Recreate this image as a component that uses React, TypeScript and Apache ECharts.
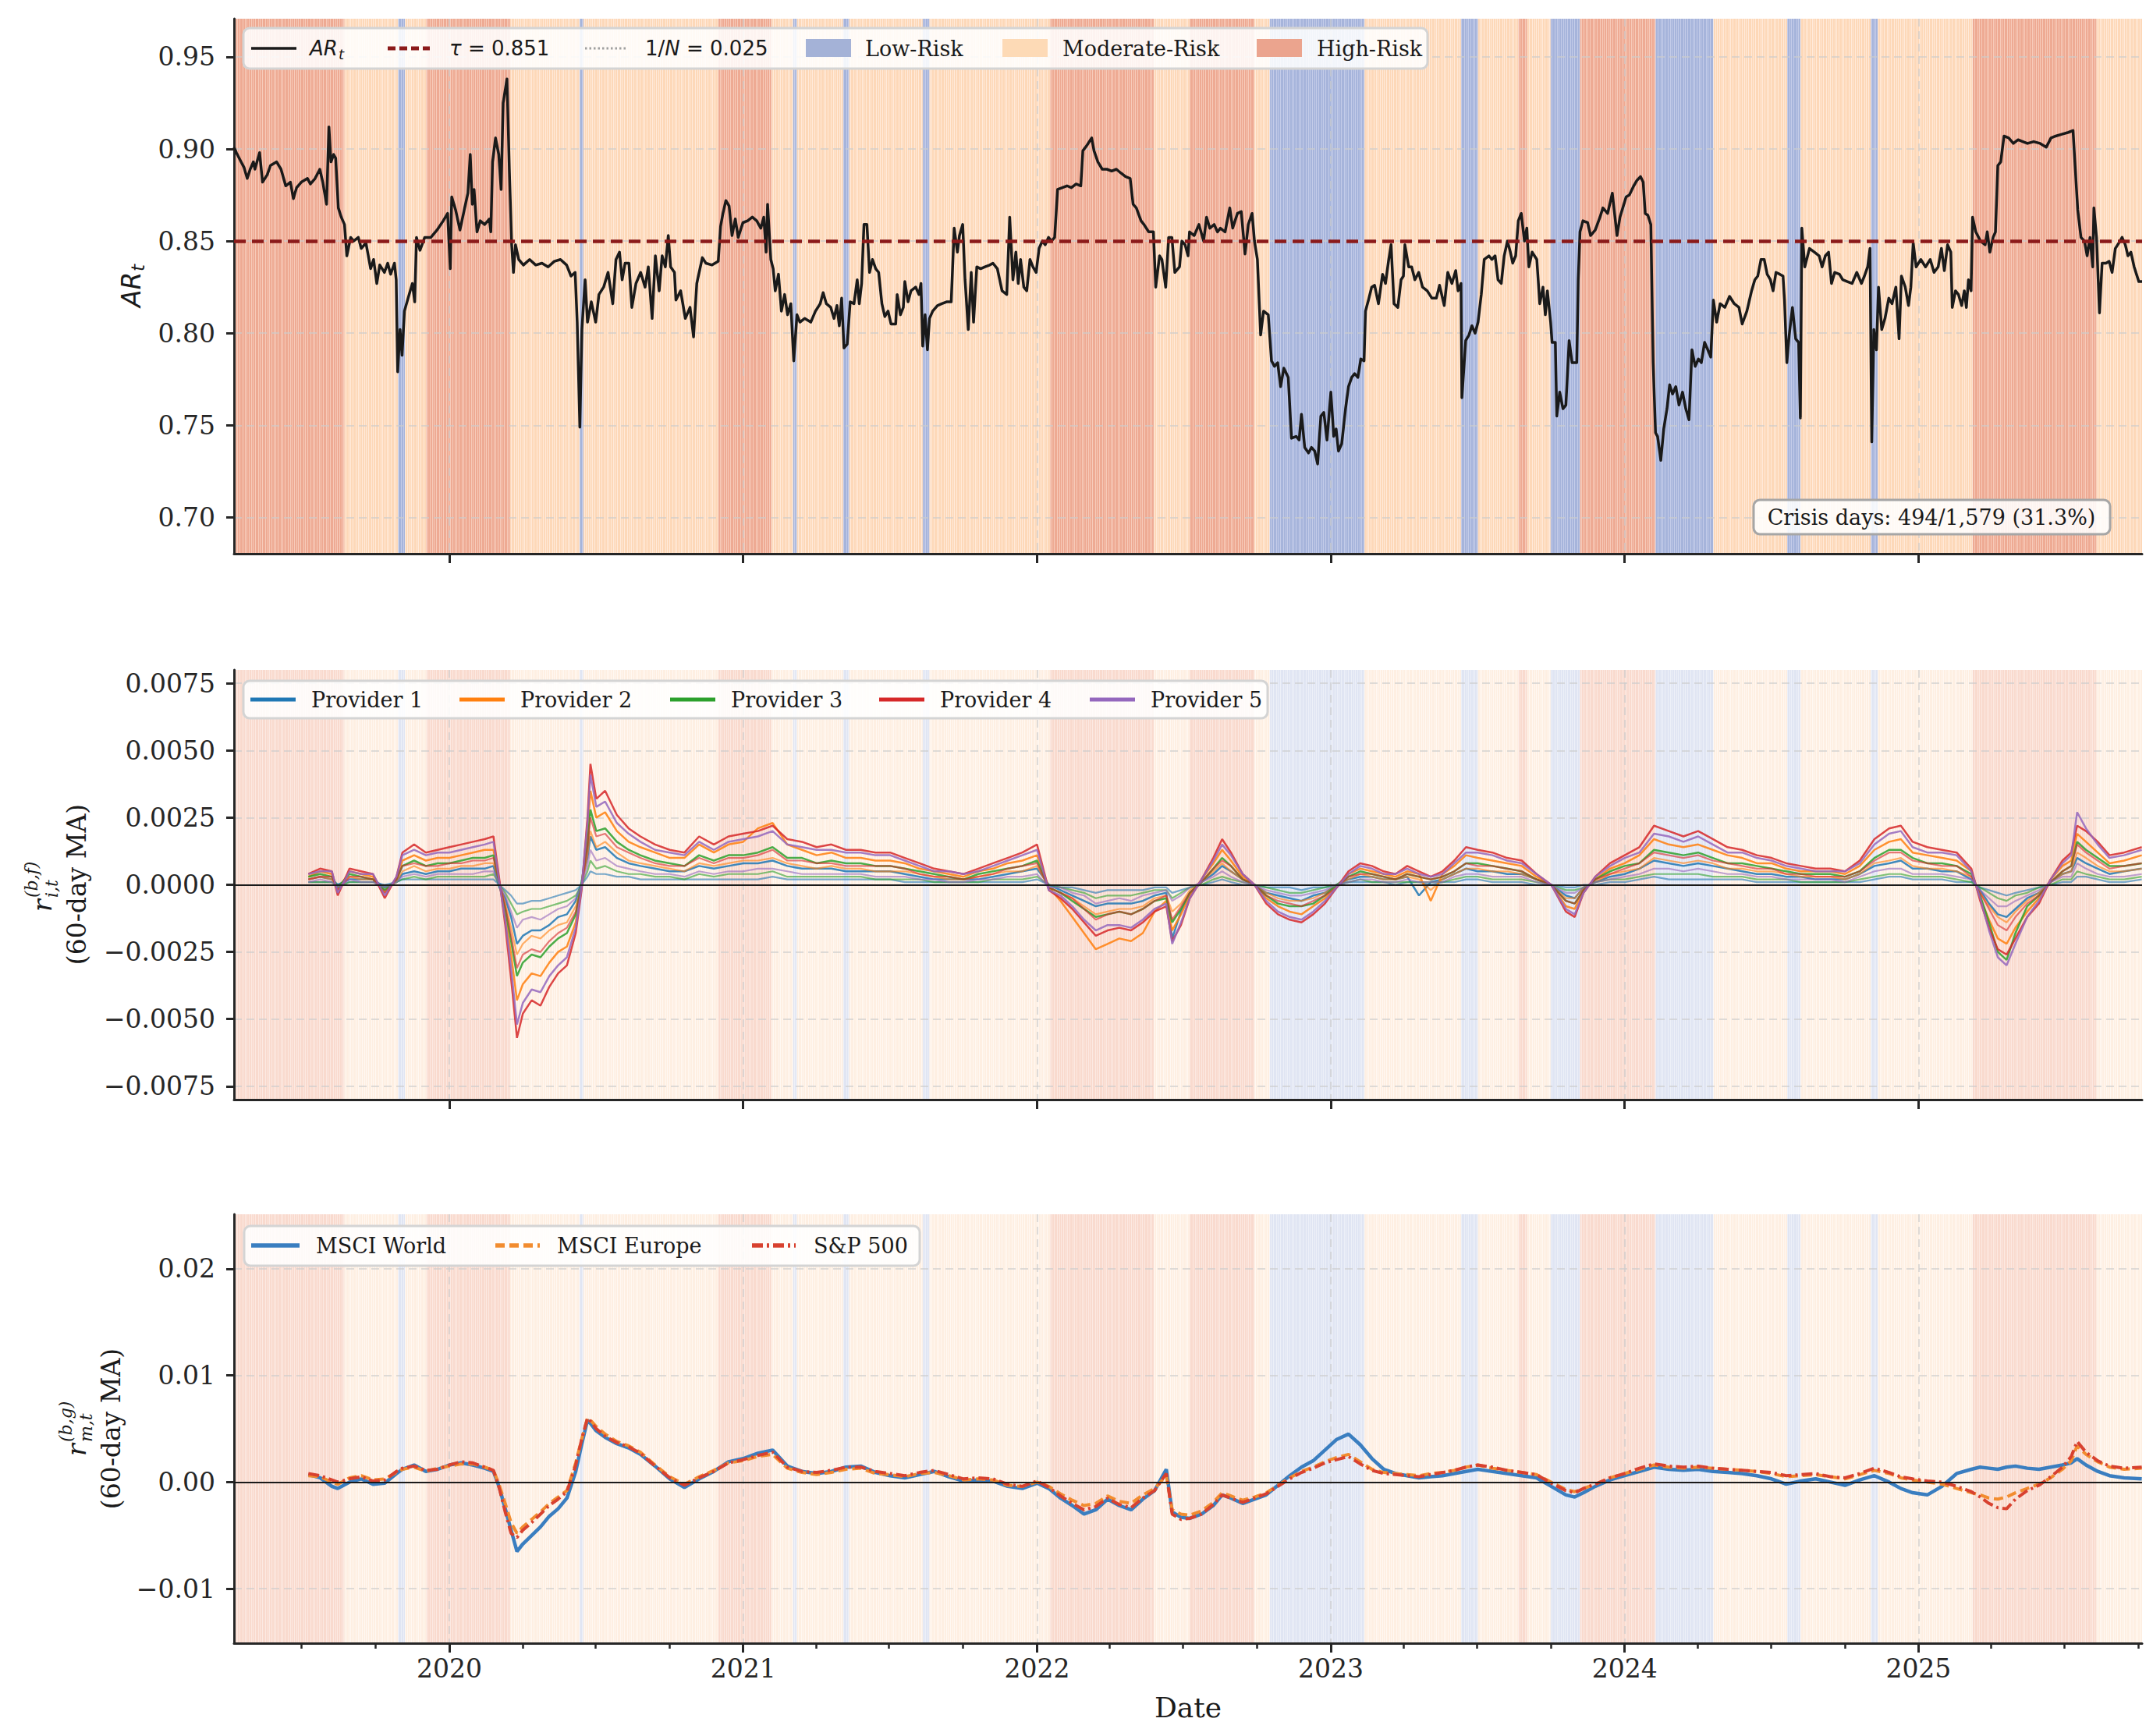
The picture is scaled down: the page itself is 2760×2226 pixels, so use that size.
import React, { useEffect, useRef } from "react";
import * as echarts from "echarts";

const CANVAS_W = 2760;
const CANVAS_H = 2226;

const SERIF = "'DejaVu Serif', 'Liberation Serif', serif";
const SANS = "'DejaVu Sans', 'Liberation Sans', sans-serif";
const INK = "#262626";

// ---- time axis (decimal years) ----
const X_MIN = 2019.267;
const X_MAX = 2025.761;
const YEAR_TICKS = [2020, 2021, 2022, 2023, 2024, 2025];
const QUARTER_TICKS = [
  2019.496, 2019.748, 2020.249, 2020.497, 2020.749, 2021.247, 2021.496, 2021.748,
  2022.247, 2022.496, 2022.748, 2023.247, 2023.496, 2023.748, 2024.249, 2024.497,
  2024.749, 2025.247, 2025.496, 2025.748,
];

// ---- thresholds / summary ----
const TAU = 0.851;
const INV_N = 0.025;
const CRISIS_DAYS = 494;
const TOTAL_DAYS = 1579;

const AR_TICKS = [0.7, 0.75, 0.8, 0.85, 0.9, 0.95];
const PROVIDER_TICKS = [-0.0075, -0.005, -0.0025, 0, 0.0025, 0.005, 0.0075];
const MARKET_TICKS = [-0.01, 0, 0.01, 0.02];

// ---- risk regimes: [start, end, regime] ----
type Regime = "Low" | "Moderate" | "High";
const REGIMES: [number, number, Regime][] = [
  [2019.267, 2019.643, "High"],
  [2019.643, 2019.826, "Moderate"],
  [2019.826, 2019.849, "Low"],
  [2019.849, 2019.921, "Moderate"],
  [2019.921, 2020.207, "High"],
  [2020.207, 2020.444, "Moderate"],
  [2020.444, 2020.456, "Low"],
  [2020.456, 2020.915, "Moderate"],
  [2020.915, 2021.096, "High"],
  [2021.096, 2021.17, "Moderate"],
  [2021.17, 2021.183, "Low"],
  [2021.183, 2021.34, "Moderate"],
  [2021.34, 2021.361, "Low"],
  [2021.361, 2021.611, "Moderate"],
  [2021.611, 2021.634, "Low"],
  [2021.634, 2022.044, "Moderate"],
  [2022.044, 2022.398, "High"],
  [2022.398, 2022.519, "Moderate"],
  [2022.519, 2022.74, "High"],
  [2022.74, 2022.792, "Moderate"],
  [2022.792, 2023.115, "Low"],
  [2023.115, 2023.443, "Moderate"],
  [2023.443, 2023.501, "Low"],
  [2023.501, 2023.638, "Moderate"],
  [2023.638, 2023.669, "High"],
  [2023.669, 2023.748, "Moderate"],
  [2023.748, 2023.848, "Low"],
  [2023.848, 2024.105, "High"],
  [2024.105, 2024.302, "Low"],
  [2024.302, 2024.553, "Moderate"],
  [2024.553, 2024.598, "Low"],
  [2024.598, 2024.838, "Moderate"],
  [2024.838, 2024.861, "Low"],
  [2024.861, 2025.184, "Moderate"],
  [2025.184, 2025.606, "High"],
  [2025.606, 2025.761, "Moderate"],
];

// ---- absorption ratio AR_t: [decimal year, value] ----
const AR_SERIES: [number, number][] = [
  [2019.267,0.901],[2019.275,0.898],[2019.291,0.893],[2019.301,0.890],[2019.312,0.884],[2019.322,0.889],[2019.333,0.893],[2019.338,0.889],[2019.354,0.898],[2019.364,0.882],
  [2019.380,0.886],[2019.391,0.891],[2019.412,0.893],[2019.427,0.889],[2019.443,0.880],[2019.459,0.882],[2019.469,0.873],[2019.480,0.879],[2019.496,0.882],[2019.517,0.884],
  [2019.527,0.881],[2019.543,0.884],[2019.559,0.889],[2019.569,0.882],[2019.582,0.870],[2019.590,0.912],[2019.597,0.893],[2019.606,0.897],[2019.613,0.895],[2019.622,0.868],
  [2019.632,0.863],[2019.643,0.859],[2019.651,0.842],[2019.664,0.852],[2019.674,0.850],[2019.690,0.852],[2019.700,0.846],[2019.716,0.849],[2019.732,0.835],[2019.742,0.840],
  [2019.753,0.827],[2019.763,0.837],[2019.779,0.833],[2019.790,0.838],[2019.800,0.832],[2019.813,0.838],[2019.819,0.829],[2019.824,0.779],[2019.832,0.802],[2019.839,0.788],
  [2019.847,0.812],[2019.863,0.821],[2019.874,0.827],[2019.882,0.817],[2019.888,0.852],[2019.900,0.845],[2019.916,0.852],[2019.937,0.852],[2019.958,0.856],[2019.979,0.861],
  [2019.994,0.865],[2020.003,0.835],[2020.008,0.874],[2020.021,0.867],[2020.036,0.856],[2020.052,0.868],[2020.063,0.876],[2020.071,0.897],[2020.078,0.870],[2020.084,0.878],
  [2020.094,0.855],[2020.105,0.861],[2020.120,0.859],[2020.136,0.862],[2020.141,0.855],[2020.147,0.893],[2020.157,0.906],[2020.168,0.897],[2020.176,0.878],[2020.183,0.925],
  [2020.196,0.938],[2020.204,0.889],[2020.212,0.848],[2020.218,0.833],[2020.225,0.848],[2020.236,0.840],[2020.252,0.837],[2020.273,0.840],[2020.294,0.837],[2020.315,0.838],
  [2020.336,0.836],[2020.357,0.839],[2020.378,0.840],[2020.399,0.837],[2020.414,0.831],[2020.428,0.833],[2020.435,0.806],[2020.444,0.749],[2020.451,0.802],[2020.462,0.829],
  [2020.470,0.806],[2020.483,0.817],[2020.498,0.806],[2020.509,0.821],[2020.525,0.825],[2020.540,0.833],[2020.556,0.816],[2020.567,0.840],[2020.579,0.844],[2020.588,0.829],
  [2020.598,0.838],[2020.611,0.838],[2020.621,0.814],[2020.635,0.827],[2020.651,0.833],[2020.666,0.825],[2020.677,0.836],[2020.690,0.808],[2020.701,0.842],[2020.714,0.823],
  [2020.724,0.842],[2020.735,0.836],[2020.745,0.853],[2020.753,0.836],[2020.766,0.833],[2020.771,0.818],[2020.787,0.823],[2020.803,0.808],[2020.819,0.814],[2020.831,0.798],
  [2020.842,0.827],[2020.850,0.833],[2020.861,0.841],
  [2020.873,0.838],[2020.894,0.837],[2020.915,0.839],[2020.923,0.858],[2020.931,0.865],[2020.941,0.872],[2020.952,0.869],[2020.962,0.853],[2020.973,0.862],[2020.983,0.852],
  [2020.999,0.860],[2021.015,0.861],[2021.031,0.863],[2021.046,0.861],[2021.060,0.857],[2021.070,0.863],[2021.078,0.844],[2021.083,0.870],[2021.094,0.840],[2021.102,0.835],
  [2021.109,0.823],[2021.120,0.832],[2021.130,0.812],[2021.141,0.821],[2021.151,0.810],[2021.162,0.816],[2021.172,0.785],[2021.183,0.810],[2021.193,0.806],[2021.209,0.808],
  [2021.230,0.806],[2021.246,0.812],[2021.262,0.816],[2021.272,0.822],[2021.283,0.816],[2021.298,0.814],[2021.309,0.808],[2021.319,0.815],[2021.327,0.804],[2021.335,0.819],
  [2021.343,0.792],[2021.354,0.794],[2021.364,0.817],[2021.377,0.816],[2021.388,0.829],[2021.395,0.816],[2021.403,0.827],[2021.411,0.859],[2021.421,0.859],[2021.430,0.833],
  [2021.440,0.840],[2021.451,0.835],[2021.461,0.833],[2021.472,0.816],[2021.482,0.809],[2021.493,0.812],[2021.503,0.805],[2021.519,0.805],[2021.524,0.821],[2021.535,0.810],
  [2021.545,0.814],[2021.550,0.828],[2021.561,0.817],[2021.571,0.823],[2021.587,0.825],[2021.598,0.821],[2021.605,0.827],[2021.611,0.793],[2021.619,0.810],[2021.627,0.791],
  [2021.634,0.808],[2021.645,0.812],[2021.661,0.815],[2021.676,0.816],[2021.692,0.817],[2021.708,0.817],[2021.718,0.857],[2021.729,0.844],[2021.736,0.853],[2021.747,0.859],
  [2021.755,0.829],[2021.766,0.802],[2021.776,0.833],[2021.784,0.806],[2021.795,0.836],[2021.808,0.835],[2021.823,0.836],[2021.839,0.837],[2021.850,0.838],[2021.865,0.835],
  [2021.881,0.823],[2021.897,0.821],[2021.907,0.863],[2021.918,0.829],[2021.928,0.844],[2021.936,0.827],[2021.944,0.840],[2021.955,0.825],[2021.965,0.823],[2021.976,0.840],
  [2021.986,0.836],[2021.997,0.833],[2022.007,0.846],[2022.018,0.850],[2022.028,0.848],[2022.039,0.852],[2022.049,0.850],[2022.060,0.852],[2022.070,0.878],[2022.086,0.879],
  [2022.102,0.880],[2022.117,0.879],[2022.133,0.881],[2022.149,0.880],[2022.156,0.899],[2022.170,0.902],[2022.186,0.906],[2022.194,0.899],[2022.207,0.893],[2022.222,0.889],
  [2022.238,0.889],[2022.254,0.888],[2022.270,0.889],[2022.285,0.887],[2022.301,0.885],[2022.317,0.884],[2022.327,0.870],[2022.338,0.868],[2022.354,0.861],[2022.364,0.859],
  [2022.380,0.855],[2022.396,0.855],[2022.404,0.825],[2022.417,0.842],[2022.425,0.840],[2022.438,0.825],[2022.448,0.852],[2022.459,0.852],[2022.469,0.833],[2022.485,0.836],
  [2022.493,0.850],[2022.504,0.848],[2022.514,0.842],[2022.519,0.855],[2022.535,0.853],[2022.551,0.859],[2022.567,0.850],[2022.577,0.863],[2022.588,0.857],[2022.603,0.859],
  [2022.614,0.855],[2022.624,0.857],[2022.640,0.855],[2022.656,0.868],[2022.666,0.857],[2022.682,0.865],[2022.695,0.866],[2022.708,0.843],[2022.719,0.859],[2022.732,0.865],
  [2022.740,0.850],[2022.750,0.840],[2022.761,0.799],[2022.771,0.812],[2022.787,0.810],[2022.798,0.785],[2022.808,0.782],[2022.819,0.784],[2022.829,0.771],[2022.840,0.781],
  [2022.855,0.776],[2022.866,0.743],[2022.882,0.744],[2022.892,0.742],[2022.900,0.756],[2022.911,0.738],[2022.924,0.735],[2022.934,0.738],[2022.945,0.736],[2022.955,0.729],
  [2022.966,0.755],[2022.976,0.757],[2022.987,0.742],[2023.000,0.768],[2023.010,0.744],[2023.018,0.748],[2023.026,0.736],[2023.037,0.740],[2023.050,0.759],[2023.060,0.771],
  [2023.071,0.776],[2023.081,0.778],[2023.092,0.776],[2023.102,0.786],[2023.113,0.785],[2023.118,0.812],[2023.128,0.818],[2023.139,0.825],[2023.149,0.826],[2023.162,0.816],
  [2023.176,0.832],[2023.186,0.827],[2023.197,0.840],[2023.205,0.848],[2023.215,0.816],[2023.228,0.814],[2023.239,0.829],[2023.247,0.831],[2023.252,0.848],[2023.265,0.836],
  [2023.275,0.836],[2023.286,0.829],[2023.299,0.833],[2023.312,0.825],[2023.328,0.823],[2023.344,0.819],[2023.359,0.819],[2023.370,0.826],[2023.386,0.815],[2023.398,0.833],
  [2023.412,0.827],[2023.425,0.834],[2023.433,0.823],[2023.443,0.827],[2023.446,0.765],[2023.454,0.784],[2023.459,0.796],[2023.470,0.799],[2023.480,0.804],[2023.491,0.800],
  [2023.501,0.806],[2023.512,0.821],[2023.522,0.840],[2023.538,0.842],[2023.548,0.840],[2023.559,0.842],[2023.569,0.829],[2023.580,0.827],[2023.590,0.842],[2023.601,0.850],
  [2023.611,0.844],[2023.619,0.838],[2023.629,0.842],[2023.638,0.861],[2023.648,0.865],[2023.659,0.850],[2023.667,0.857],[2023.674,0.836],[2023.685,0.844],[2023.701,0.840],
  [2023.711,0.816],[2023.722,0.825],[2023.730,0.810],[2023.737,0.823],[2023.748,0.806],[2023.753,0.795],[2023.764,0.795],[2023.769,0.755],[2023.779,0.768],[2023.790,0.759],
  [2023.800,0.761],[2023.811,0.796],[2023.821,0.784],[2023.837,0.784],[2023.842,0.829],[2023.848,0.855],[2023.858,0.861],[2023.874,0.860],[2023.884,0.853],[2023.900,0.856],
  [2023.916,0.863],[2023.926,0.868],[2023.942,0.865],[2023.958,0.876],[2023.974,0.853],[2023.984,0.863],[2024.005,0.874],[2024.016,0.875],[2024.031,0.880],[2024.042,0.883],
  [2024.054,0.885],[2024.063,0.882],[2024.070,0.865],[2024.079,0.864],[2024.089,0.859],[2024.097,0.784],[2024.105,0.746],
  [2024.112,0.744],[2024.123,0.731],[2024.133,0.748],[2024.144,0.759],[2024.153,0.772],[2024.163,0.767],[2024.174,0.771],[2024.185,0.761],[2024.197,0.768],[2024.208,0.759],
  [2024.219,0.753],[2024.229,0.791],[2024.240,0.782],[2024.251,0.786],[2024.261,0.784],[2024.272,0.795],[2024.283,0.791],[2024.293,0.787],[2024.302,0.818],[2024.313,0.806],
  [2024.325,0.816],[2024.341,0.814],[2024.357,0.820],[2024.373,0.816],[2024.389,0.814],[2024.400,0.805],[2024.416,0.812],[2024.432,0.823],[2024.443,0.829],[2024.453,0.831],
  [2024.464,0.840],[2024.475,0.840],[2024.485,0.832],[2024.496,0.829],[2024.505,0.823],[2024.515,0.833],[2024.528,0.832],[2024.539,0.831],[2024.544,0.818],[2024.552,0.784],
  [2024.560,0.799],[2024.571,0.814],[2024.582,0.797],[2024.592,0.795],[2024.598,0.754],[2024.603,0.857],[2024.613,0.836],[2024.629,0.846],[2024.646,0.844],[2024.662,0.842],
  [2024.672,0.836],[2024.683,0.842],[2024.694,0.844],[2024.704,0.827],[2024.715,0.833],[2024.731,0.832],[2024.742,0.829],[2024.758,0.828],[2024.774,0.827],[2024.790,0.833],
  [2024.806,0.827],[2024.816,0.831],[2024.827,0.836],[2024.835,0.846],[2024.841,0.741],[2024.848,0.802],[2024.857,0.791],[2024.864,0.825],[2024.875,0.802],[2024.886,0.808],
  [2024.899,0.819],[2024.910,0.816],[2024.923,0.825],[2024.934,0.797],[2024.942,0.831],[2024.955,0.825],[2024.966,0.815],[2024.974,0.825],[2024.982,0.849],[2024.992,0.836],
  [2025.008,0.840],[2025.024,0.836],[2025.040,0.840],[2025.053,0.833],[2025.067,0.836],[2025.078,0.846],[2025.088,0.834],[2025.099,0.848],[2025.110,0.844],[2025.115,0.814],
  [2025.126,0.823],[2025.136,0.821],[2025.147,0.815],[2025.156,0.823],[2025.163,0.814],[2025.170,0.829],[2025.179,0.823],[2025.184,0.863],[2025.195,0.855],[2025.211,0.850],
  [2025.227,0.848],[2025.234,0.855],[2025.243,0.844],[2025.254,0.852],[2025.262,0.855],[2025.270,0.891],[2025.280,0.893],[2025.291,0.907],[2025.307,0.906],[2025.323,0.903],
  [2025.339,0.905],[2025.355,0.904],[2025.371,0.903],[2025.392,0.904],[2025.414,0.903],[2025.435,0.901],[2025.451,0.906],[2025.467,0.907],[2025.488,0.908],[2025.510,0.909],
  [2025.526,0.910],[2025.533,0.891],[2025.542,0.867],[2025.553,0.852],[2025.565,0.850],[2025.574,0.842],[2025.584,0.852],[2025.593,0.836],[2025.597,0.868],[2025.606,0.852],
  [2025.616,0.811],[2025.625,0.838],[2025.638,0.838],[2025.649,0.839],[2025.659,0.833],[2025.670,0.846],[2025.686,0.850],[2025.693,0.852],[2025.704,0.848],[2025.713,0.842],
  [2025.723,0.844],[2025.734,0.836],[2025.750,0.828],[2025.761,0.828],
];

// ---- 60-day moving averages: sample dates (decimal years) ----
const MA_T = [
  2019.52, 2019.56, 2019.60, 2019.62, 2019.66, 2019.70, 2019.74, 2019.78, 2019.82, 2019.84,
  2019.88, 2019.92, 2019.96, 2020.00, 2020.04, 2020.08, 2020.12, 2020.15, 2020.17, 2020.19,
  2020.21, 2020.23, 2020.25, 2020.28, 2020.31, 2020.34, 2020.37, 2020.40, 2020.43, 2020.45,
  2020.47, 2020.48, 2020.50, 2020.53, 2020.57, 2020.61, 2020.65, 2020.70, 2020.75, 2020.80,
  2020.85, 2020.90, 2020.95, 2021.00, 2021.05, 2021.10, 2021.15, 2021.20, 2021.25, 2021.30,
  2021.35, 2021.40, 2021.45, 2021.50, 2021.55, 2021.60, 2021.65, 2021.70, 2021.75, 2021.80,
  2021.85, 2021.90, 2021.95, 2022.00, 2022.04, 2022.08, 2022.12, 2022.16, 2022.20, 2022.24,
  2022.28, 2022.32, 2022.36, 2022.40, 2022.44, 2022.46, 2022.49, 2022.52, 2022.56, 2022.60,
  2022.63, 2022.66, 2022.70, 2022.74, 2022.78, 2022.82, 2022.86, 2022.90, 2022.94, 2022.98,
  2023.02, 2023.06, 2023.10, 2023.14, 2023.18, 2023.22, 2023.26, 2023.30, 2023.34, 2023.38,
  2023.42, 2023.46, 2023.50, 2023.55, 2023.60, 2023.65, 2023.70, 2023.75, 2023.80, 2023.83,
  2023.86, 2023.90, 2023.95, 2024.00, 2024.05, 2024.10, 2024.15, 2024.20, 2024.25, 2024.30,
  2024.35, 2024.40, 2024.45, 2024.50, 2024.55, 2024.60, 2024.65, 2024.70, 2024.75, 2024.80,
  2024.85, 2024.90, 2024.94, 2024.98, 2025.03, 2025.08, 2025.13, 2025.18, 2025.21, 2025.24,
  2025.27, 2025.30, 2025.33, 2025.37, 2025.41, 2025.45, 2025.49, 2025.52, 2025.54, 2025.57,
  2025.61, 2025.65, 2025.70, 2025.76,
];

// provider fund returns, basis points (two funds per provider)
const PROVIDER_1_BP = [
  2,3,2,0,2,2,2,-1,1,4, 5,4,5,5,6,6,6,7,-1,-5, -12,-22,-19,-17,-17,-15,-12,-11,-6,1,
  10,18,13,14,10,8,7,6,5,5, 7,6,7,8,8,9,7,6,6,6, 5,5,5,5,4,3,2,2,2,2,
  3,4,5,6,0,-2,-4,-6,-8,-7, -7,-7,-6,-4,-3,-20,-10,-3,1,4, 7,5,2,0,-3,-4,-5,-6,-4,-3,
  0,2,3,3,2,2,3,-4,1,2, 4,6,5,5,4,4,2,0,-4,-5, -1,1,3,4,6,9,8,7,8,7,
  6,5,4,4,3,3,2,2,2,4, 7,8,9,6,6,5,5,2,-2,-7, -11,-12,-9,-5,-3,1,4,5,10,8, 6,4,5,6,
];
const PROVIDER_1B_BP = [
  1,1,1,0,1,1,1,0,1,2, 2,2,2,2,2,2,2,2,0,-2, -4,-7,-7,-6,-6,-5,-4,-3,-2,0,
  3,5,4,4,3,3,2,2,2,2, 2,2,2,2,2,3,2,2,2,2, 2,2,2,2,1,1,1,1,1,1,
  1,1,1,2,0,-1,-1,-2,-3,-2, -2,-2,-2,-1,-1,-3,-2,-1,0,1, 2,1,0,0,-1,-1,-1,-2,-1,-1,
  0,1,1,1,1,0,1,1,0,1, 1,2,2,1,1,1,0,0,-1,-1, 0,0,1,1,2,3,2,2,2,2,
  2,2,1,1,1,1,1,1,1,1, 2,3,3,2,2,2,1,1,-1,-2, -3,-4,-3,-2,-1,0,1,1,3,3, 2,1,1,2,
];
const PROVIDER_2_BP = [
  3,5,4,-2,5,4,3,-3,2,9, 11,9,10,10,11,12,13,13,1,-11, -26,-43,-37,-33,-34,-29,-25,-23,-14,0,
  19,35,25,27,20,16,14,12,10,10, 15,12,15,16,21,23,15,13,11,12, 10,10,9,9,8,6,5,4,3,5,
  6,8,9,11,-1,-6,-12,-18,-24,-22, -20,-21,-18,-10,-6,-17,-11,-4,2,8, 13,9,3,0,-5,-8,-10,-11,-8,-5,
  -1,4,6,5,4,3,5,4,-6,4, 7,11,10,9,8,7,3,0,-8,-9, -2,2,6,8,11,17,15,14,15,13,
  11,10,8,8,6,5,5,5,4,7, 13,16,17,12,11,10,9,5,-5,-13, -20,-22,-16,-10,-5,2,7,9,19,16, 12,8,9,11,
];
const PROVIDER_2B_BP = [
  2,3,2,-2,3,2,2,-2,1,5, 7,5,6,6,7,7,8,8,1,-7, -16,-26,-22,-19,-20,-17,-15,-14,-8,-1,
  11,20,14,16,12,9,8,7,6,5, 8,7,8,9,9,10,8,7,6,7, 6,6,5,5,5,4,3,2,2,3,
  4,5,5,7,-1,-3,-5,-8,-11,-10, -9,-9,-8,-5,-4,-10,-7,-2,1,5, 8,5,2,0,-3,-5,-6,-6,-5,-3,
  0,2,4,3,2,2,3,2,-2,2, 4,6,6,5,5,4,2,0,-5,-5, -1,1,4,5,6,10,9,8,9,8,
  6,6,5,5,4,3,3,3,2,4, 8,9,10,7,6,6,5,3,-3,-8, -12,-14,-10,-6,-3,1,4,5,12,10, 7,5,5,6,
];
const PROVIDER_3_BP = [
  3,4,3,-1,4,3,2,-2,2,7, 9,7,8,8,9,10,10,11,0,-9, -21,-34,-29,-26,-27,-23,-20,-18,-11,1,
  15,28,20,21,16,13,11,9,8,7, 11,9,11,11,12,14,10,10,8,9, 8,8,7,7,6,5,4,3,2,4,
  5,6,7,9,-1,-3,-6,-9,-12,-11, -10,-11,-9,-6,-5,-14,-9,-3,1,6, 10,7,2,0,-4,-7,-8,-8,-7,-4,
  0,3,5,4,3,2,4,3,2,3, 5,8,8,7,6,5,2,0,-6,-7, -2,2,5,7,8,13,12,11,12,10,
  8,8,7,6,5,4,4,4,3,5, 10,13,13,10,8,8,7,4,-4,-14, -25,-28,-18,-8,-4,1,5,7,16,13, 10,7,7,8,
];
const PROVIDER_3B_BP = [
  1,1,1,-1,1,1,1,-1,1,2, 3,2,3,3,3,3,3,4,0,-3, -7,-11,-10,-9,-9,-8,-7,-6,-4,0,
  5,9,6,7,5,4,4,3,3,2, 4,3,4,4,4,5,3,3,3,3, 3,3,2,2,2,2,1,1,1,1,
  2,2,2,3,0,-1,-2,-3,-5,-4, -4,-4,-3,-2,-2,-5,-3,-1,0,2, 3,2,1,0,-1,-2,-3,-3,-2,-1,
  0,1,2,1,1,1,1,1,1,1, 2,3,3,2,2,2,1,0,-2,-2, -1,1,2,2,3,4,4,4,4,3,
  3,3,2,2,2,1,1,1,1,2, 3,4,4,3,3,3,2,1,-1,-3, -5,-6,-4,-3,-1,0,2,2,5,4, 3,2,2,3,
];
const PROVIDER_4_BP = [
  4,6,5,-4,6,5,4,-5,3,12, 15,12,13,14,15,16,17,18,2,-15, -35,-57,-48,-43,-45,-38,-33,-30,-18,-2,
  25,45,32,35,26,21,18,15,13,12, 18,15,18,19,20,22,17,16,14,15, 13,13,12,12,10,8,6,5,4,6,
  8,10,12,15,-2,-5,-9,-14,-19,-17, -16,-17,-14,-10,-8,-21,-15,-5,2,10, 17,12,4,0,-7,-11,-13,-14,-11,-7,
  -1,5,8,7,5,4,7,5,3,5, 9,14,13,12,10,9,4,0,-10,-12, -3,3,8,11,14,22,20,18,20,17,
  14,13,11,10,8,7,6,6,5,9, 17,21,22,16,14,13,12,6,-6,-16, -24,-26,-20,-12,-7,2,9,12,22,20, 16,11,12,14,
];
const PROVIDER_4B_BP = [
  2,3,3,-2,3,3,2,-3,2,7, 8,7,7,8,8,9,9,10,1,-8, -19,-31,-26,-24,-25,-21,-18,-16,-10,-1,
  14,25,18,19,14,12,10,8,7,7, 10,8,10,10,11,13,9,9,8,8, 7,7,7,7,6,4,3,3,2,3,
  4,6,7,8,-1,-3,-5,-9,-13,-11, -10,-11,-9,-6,-4,-13,-8,-3,1,6, 9,7,2,0,-4,-6,-7,-8,-6,-4,
  -1,3,4,4,3,2,4,3,2,3, 5,8,7,7,6,5,2,0,-6,-7, -2,2,4,6,8,12,11,10,11,9,
  8,7,6,6,4,4,3,3,3,5, 9,12,12,9,8,7,7,3,-3,-9, -15,-17,-12,-7,-4,1,5,7,15,12, 9,6,7,8,
];
const PROVIDER_5_BP = [
  4,5,5,-3,5,4,4,-4,3,11, 13,11,12,12,13,14,15,16,1,-13, -31,-52,-44,-39,-40,-34,-30,-27,-16,-1,
  23,41,29,31,23,19,16,13,12,11, 16,13,16,17,18,20,15,14,13,13, 12,12,11,11,9,7,5,5,4,5,
  7,9,11,13,-2,-4,-8,-13,-17,-15, -15,-16,-13,-9,-7,-22,-14,-5,2,9, 15,11,4,0,-6,-10,-12,-13,-10,-6,
  -1,4,7,6,4,4,6,4,3,4, 8,12,12,11,9,8,4,0,-9,-11, -3,3,7,10,12,19,18,16,18,15,
  12,12,10,9,7,6,5,5,5,8, 15,19,20,14,12,12,11,5,-5,-17, -27,-30,-22,-12,-6,2,8,11,27,21, 15,10,11,13,
];
const PROVIDER_5B_BP = [
  1,2,1,-1,2,1,1,-1,1,3, 4,3,4,4,4,4,5,5,0,-4, -10,-16,-13,-12,-13,-11,-9,-8,-5,0,
  7,13,9,10,7,6,5,4,4,3, 5,4,5,5,6,6,5,4,4,4, 4,4,3,3,3,2,2,1,1,2,
  2,3,3,4,-1,-1,-3,-4,-7,-6, -5,-6,-4,-3,-2,-6,-4,-1,1,3, 5,3,1,0,-2,-3,-4,-4,-3,-2,
  0,1,2,2,1,1,2,1,1,1, 3,4,4,3,3,3,1,0,-3,-3, -1,1,2,3,4,6,6,5,6,5,
  4,4,3,3,2,2,2,2,1,3, 5,6,6,4,4,4,3,2,-2,-5, -8,-8,-6,-4,-2,1,3,3,8,6, 4,3,3,4,
];

// market benchmark returns, basis points
const MSCI_WORLD_BP = [
  7,4,-4,-6,0,3,-2,-1,8,12, 16,10,12,16,18,16,13,10,-5,-25, -45,-65,-58,-50,-42,-32,-25,-15,10,35,
  58,55,48,42,36,32,26,15,3,-5, 3,10,19,22,27,30,15,10,8,10, 14,15,9,6,4,7,10,5,1,2,
  1,-4,-6,-1,-6,-15,-22,-30,-26,-16, -22,-26,-16,-8,12,-28,-33,-34,-30,-22, -12,-15,-20,-16,-12,-3,6,14,20,30,
  40,45,35,22,12,8,6,4,5,6, 8,10,12,10,8,6,4,-4,-12,-14, -10,-4,2,6,10,14,12,11,12,10,
  9,8,6,3,-2,1,3,0,-3,2, 6,0,-6,-10,-12,-4,8,12,14,13, 12,14,15,13,12,14,16,18,22,16, 10,6,4,3,
];
const MSCI_EUROPE_BP = [
  6,5,0,-2,4,6,2,3,9,12, 14,10,13,15,17,17,14,11,-3,-20, -38,-48,-42,-35,-28,-20,-14,-8,18,40,
  60,58,52,45,38,34,28,16,5,-2, 5,11,18,20,24,26,13,9,7,9, 12,13,8,7,5,8,9,6,2,3,
  2,-3,-4,0,-4,-11,-17,-22,-20,-13, -18,-20,-12,-6,6,-26,-30,-31,-27,-19, -10,-13,-17,-14,-10,-3,4,10,14,19,
  23,26,19,12,9,8,7,6,8,9, 11,14,16,13,11,9,7,0,-7,-9, -6,-2,4,8,12,16,14,13,14,13,
  12,11,10,8,5,6,7,5,3,7, 11,8,4,2,0,-2,-6,-10,-12,-15, -16,-14,-10,-6,-2,4,12,20,34,26, 19,14,12,13,
];
const SP500_BP = [
  8,6,2,0,3,5,1,2,10,13, 15,11,12,16,19,18,14,11,-6,-28, -48,-52,-45,-38,-30,-22,-16,-9,16,40,
  60,57,50,43,37,33,27,15,4,-3, 4,10,18,21,25,28,14,10,9,11, 14,14,10,8,6,9,11,7,3,4,
  3,-2,-4,1,-5,-13,-20,-26,-23,-15, -21,-24,-15,-8,8,-30,-35,-34,-30,-21, -12,-15,-19,-15,-11,-4,3,9,13,18,
  21,24,17,11,8,7,6,5,7,9, 11,14,16,14,11,9,7,-1,-8,-10, -6,-2,4,8,13,17,15,14,15,13,
  12,11,10,9,6,7,8,5,4,8, 13,9,5,3,1,0,-4,-9,-14,-20, -24,-25,-16,-8,-3,5,14,24,38,28, 20,15,13,14,
];

const PROVIDERS = [
  { name: "Provider 1", color: "#1F77B4", funds: [PROVIDER_1_BP, PROVIDER_1B_BP] },
  { name: "Provider 2", color: "#FF7F0E", funds: [PROVIDER_2_BP, PROVIDER_2B_BP] },
  { name: "Provider 3", color: "#2CA02C", funds: [PROVIDER_3_BP, PROVIDER_3B_BP] },
  { name: "Provider 4", color: "#D62728", funds: [PROVIDER_4_BP, PROVIDER_4B_BP] },
  { name: "Provider 5", color: "#9467BD", funds: [PROVIDER_5_BP, PROVIDER_5B_BP] },
];

const MARKETS = [
  { name: "MSCI World", color: "#3A7EC0", bp: MSCI_WORLD_BP, dash: "solid" as any, width: 4.5 },
  { name: "MSCI Europe", color: "#F28C2F", bp: MSCI_EUROPE_BP, dash: [12, 6], width: 4 },
  { name: "S&P 500", color: "#D8412F", bp: SP500_BP, dash: [14, 5, 3, 5], width: 4 },
];

// ---- styling ----
// [base, stripe] colour pairs for the daily regime shading
const BAND_STRONG: Record<Regime, [string, string]> = {
  Low: ["#A6B4DB", "#C4CCE9"],
  Moderate: ["#FDD8B8", "#FFEADA"],
  High: ["#EEAA93", "#F7CBBA"],
};
const BAND_LIGHT: Record<Regime, [string, string]> = {
  Low: ["#E0E5F3", "#EDF0F8"],
  Moderate: ["#FEEFE2", "#FFF8F2"],
  High: ["#F9DACE", "#FCE9E2"],
};
const LEGEND_PATCH: Record<Regime, string> = { Low: "#A4B2D7", Moderate: "#FDDAB6", High: "#EBA48E" };
const STRIPE_X = [0, 3, 5, 8, 12, 14, 17, 21, 24, 26];
const STRIPE_W = 29;

const GRID_LINE = { color: "rgba(205,205,205,0.65)", width: 2, type: [10, 6] as any };

const GRIDS = [
  { left: 300, right: 14, top: 24, height: 686 },
  { left: 300, right: 14, top: 859, height: 551 },
  { left: 300, right: 14, top: 1557, height: 550 },
];

const Y_RANGES: [number, number][] = [
  [0.6803, 0.9707],
  [-0.008, 0.008],
  [-0.0151, 0.0251],
];

const minusFmt = (v: number, digits: number) =>
  (v < -1e-12 ? "\u2212" : "") + Math.abs(v).toFixed(digits);

function stripeFill([base, stripe]: [string, string]): any {
  const c = document.createElement("canvas");
  c.width = STRIPE_W;
  c.height = 6;
  const ctx = c.getContext("2d");
  if (!ctx) return base;
  ctx.fillStyle = base;
  ctx.fillRect(0, 0, STRIPE_W, 6);
  ctx.fillStyle = stripe;
  for (const x of STRIPE_X) ctx.fillRect(x, 0, 1, 6);
  return { image: c, repeat: "repeat", imageWidth: STRIPE_W, imageHeight: 6 };
}

function mainXAxis(gridIndex: number, showLabels: boolean) {
  return {
    type: "value",
    gridIndex,
    min: X_MIN,
    max: X_MAX,
    position: "bottom",
    z: 2,
    axisLine: { show: true, onZero: false, lineStyle: { color: INK, width: 3 } },
    axisTick: { show: true, customValues: YEAR_TICKS, length: 12, lineStyle: { color: INK, width: 3 } },
    axisLabel: {
      show: showLabels,
      customValues: YEAR_TICKS,
      formatter: (v: number) => String(Math.round(v)),
      fontFamily: SERIF,
      fontSize: 33,
      color: INK,
      margin: 16,
    },
    splitLine: { show: true, lineStyle: GRID_LINE },
  };
}

function yAxis(gridIndex: number, ticks: number[], digits: number) {
  const [min, max] = Y_RANGES[gridIndex];
  return {
    type: "value",
    gridIndex,
    min,
    max,
    z: 2,
    axisLine: { show: true, onZero: false, lineStyle: { color: INK, width: 3 } },
    axisTick: { show: true, customValues: ticks, length: 10, lineStyle: { color: INK, width: 3 } },
    axisLabel: {
      customValues: ticks,
      formatter: (v: number) => minusFmt(v, digits),
      fontFamily: SERIF,
      fontSize: 33,
      color: INK,
      margin: 24,
    },
    splitLine: { show: true, lineStyle: GRID_LINE },
  };
}

function bandSeries(axisIndex: number, palette: Record<Regime, [string, string]>) {
  const [lo, hi] = Y_RANGES[axisIndex];
  const mid = (lo + hi) / 2;
  const fills: Record<Regime, any> = {
    Low: stripeFill(palette.Low),
    Moderate: stripeFill(palette.Moderate),
    High: stripeFill(palette.High),
  };
  return {
    type: "line",
    xAxisIndex: axisIndex,
    yAxisIndex: axisIndex,
    data: [[X_MIN, mid], [X_MAX, mid]],
    symbol: "none",
    lineStyle: { opacity: 0, width: 0 },
    silent: true,
    z: 1,
    markArea: {
      silent: true,
      label: { show: false },
      data: REGIMES.map(([s, e, r]) => [
        { xAxis: s, itemStyle: { color: fills[r], opacity: 1 } },
        { xAxis: e },
      ]),
    },
  };
}

// ---- graphic helpers ----
function box(x: number, y: number, w: number, h: number, stroke = "#D4D4D4") {
  return {
    type: "rect",
    z: 100,
    shape: { x, y, width: w, height: h, r: 8 },
    style: { fill: "rgba(255,255,255,0.86)", stroke, lineWidth: 3 },
  };
}
function handle(x: number, y: number, len: number, color: string, width: number, dash?: number[]) {
  return {
    type: "line",
    z: 101,
    shape: { x1: x, y1: y, x2: x + len, y2: y },
    style: { stroke: color, lineWidth: width, lineDash: dash || null },
  };
}
function patch(x: number, y: number, color: string) {
  return { type: "rect", z: 101, shape: { x, y, width: 58, height: 23 }, style: { fill: color } };
}
function txt(
  x: number,
  y: number,
  text: string,
  opts: { family?: string; size?: number; italic?: boolean; align?: string; rich?: any } = {}
) {
  const align = opts.align || "left";
  return {
    type: "text",
    z: 102,
    x,
    y,
    style: {
      text,
      fontFamily: opts.family || SERIF,
      fontSize: opts.size || 27,
      fontStyle: opts.italic ? "italic" : "normal",
      fill: "#1A1A1A",
      align,
      verticalAlign: "middle",
      textAlign: align,
      textVerticalAlign: "middle",
      rich: opts.rich,
    },
  };
}

function mathYLabel(cx: number, cy: number, sup: string, sub: string) {
  return {
    type: "group",
    x: cx,
    y: cy,
    rotation: Math.PI / 2,
    children: [
      txt(-35, -20, "r", { size: 33, italic: true }),
      txt(-17, -34, sup, { size: 22, italic: true }),
      txt(-17, -8, sub, { size: 22, italic: true }),
      txt(0, 24, "(60-day MA)", { size: 33, align: "center" }),
    ],
  };
}

function buildOption() {
  const maPoints = (bp: number[]) => MA_T.map((t, i) => [t, bp[i] / 10000]);
  const zeroLine = {
    silent: true,
    symbol: ["none", "none"],
    label: { show: false },
    lineStyle: { color: "#1A1A1A", width: 2, type: "solid" },
    data: [{ yAxis: 0 }],
  };

  const crisisText = `Crisis days: ${CRISIS_DAYS.toLocaleString("en-US")}/${TOTAL_DAYS.toLocaleString(
    "en-US"
  )} (${((100 * CRISIS_DAYS) / TOTAL_DAYS).toFixed(1)}%)`;

  const mathRich = {
    i: { fontFamily: SANS, fontSize: 26, fontStyle: "italic", fill: "#1A1A1A", color: "#1A1A1A" },
    u: { fontFamily: SANS, fontSize: 26, fill: "#1A1A1A", color: "#1A1A1A" },
  };

  const providerLegendX = [321, 589, 859, 1127, 1397];
  const marketLegend = [
    { x: 322, len: 62, tx: 405 },
    { x: 635, len: 57, tx: 714 },
    { x: 964, len: 56, tx: 1043 },
  ];

  const graphic: any[] = [
    // panel 1 legend
    box(312, 36, 1518, 52),
    handle(322, 62, 58, "#1A1A1A", 3.5),
    txt(397, 62, "AR", { family: SANS, size: 26, italic: true }),
    txt(434, 69, "t", { family: SANS, size: 18, italic: true }),
    handle(497, 62, 54, "#8B1A1A", 5, [10, 5]),
    txt(576, 62, `{i|τ}{u| = ${TAU.toFixed(3)}}`, { family: SANS, size: 26, rich: mathRich }),
    handle(750, 62, 55, "#A0A0A0", 3, [2.5, 3]),
    txt(827, 62, `{u|1/}{i|N}{u| = ${INV_N.toFixed(3)}}`, { family: SANS, size: 26, rich: mathRich }),
    patch(1033, 50, LEGEND_PATCH.Low),
    txt(1109, 62, "Low-Risk"),
    patch(1285, 50, LEGEND_PATCH.Moderate),
    txt(1362, 62, "Moderate-Risk"),
    patch(1611, 50, LEGEND_PATCH.High),
    txt(1688, 62, "High-Risk"),
    // crisis summary
    box(2248, 641, 457, 44, "#A6A6A6"),
    txt(2476, 663, crisisText, { align: "center" }),
    // panel 2 legend
    box(312, 873, 1313, 48),
    ...PROVIDERS.flatMap((p, i) => [
      handle(providerLegendX[i], 897, 58, p.color, 5),
      txt(providerLegendX[i] + 78, 897, p.name),
    ]),
    // panel 3 legend
    box(313, 1572, 866, 51),
    ...MARKETS.flatMap((m, i) => [
      handle(marketLegend[i].x, 1597, marketLegend[i].len, m.color, 5.5, Array.isArray(m.dash) ? m.dash : undefined),
      txt(marketLegend[i].tx, 1597, m.name),
    ]),
    // y-axis titles
    {
      type: "group",
      x: 168,
      y: 367,
      rotation: Math.PI / 2,
      children: [
        txt(-27, 0, "AR", { family: SANS, size: 33, italic: true }),
        txt(19, 9, "t", { family: SANS, size: 23, italic: true }),
      ],
    },
    mathYLabel(74, 1134, "(b,f)", "i,t"),
    mathYLabel(118, 1832, "(b,g)", "m,t"),
    // x-axis title
    txt(1523, 2189, "Date", { size: 36, align: "center" }),
  ];

  const providerSeries: any[] = [];
  PROVIDERS.forEach((p, pi) => {
    p.funds.forEach((bp, fi) => {
      providerSeries.push({
        type: "line",
        name: fi === 0 ? p.name : `${p.name} (fund B)`,
        xAxisIndex: 1,
        yAxisIndex: 1,
        data: maPoints(bp),
        symbol: "none",
        showSymbol: false,
        z: 3,
        lineStyle: { color: p.color, width: fi === 0 ? 2.5 : 2.2, opacity: fi === 0 ? 0.85 : 0.6 },
        markLine: pi === 0 && fi === 0 ? zeroLine : undefined,
      });
    });
  });

  const series: any[] = [
    bandSeries(0, BAND_STRONG),
    bandSeries(1, BAND_LIGHT),
    bandSeries(2, BAND_LIGHT),
    {
      type: "line",
      name: "AR_t",
      xAxisIndex: 0,
      yAxisIndex: 0,
      data: AR_SERIES,
      symbol: "none",
      showSymbol: false,
      z: 3,
      lineStyle: { color: "#1A1A1A", width: 3.5, join: "round" },
      markLine: {
        silent: true,
        symbol: ["none", "none"],
        label: { show: false },
        lineStyle: { color: "#8B1A1A", width: 4.5, type: [15, 8] },
        data: [{ yAxis: TAU }],
      },
    },
    ...providerSeries,
    ...MARKETS.map((m, i) => ({
      type: "line",
      name: m.name,
      xAxisIndex: 2,
      yAxisIndex: 2,
      data: maPoints(m.bp),
      symbol: "none",
      showSymbol: false,
      z: 3,
      lineStyle: { color: m.color, width: m.width, type: m.dash },
      markLine: i === 0 ? zeroLine : undefined,
    })),
  ];

  return {
    animation: false,
    backgroundColor: "#FFFFFF",
    grid: GRIDS.map((g) => ({ ...g, containLabel: false, outerBoundsMode: "none" })),
    xAxis: [
      mainXAxis(0, false),
      mainXAxis(1, false),
      mainXAxis(2, true),
      {
        type: "value",
        gridIndex: 2,
        min: X_MIN,
        max: X_MAX,
        position: "bottom",
        z: 2,
        axisLine: { show: false, onZero: false },
        axisTick: { show: true, customValues: QUARTER_TICKS, length: 7, lineStyle: { color: INK, width: 2.5 } },
        axisLabel: { show: false },
        splitLine: { show: false },
      },
    ],
    yAxis: [yAxis(0, AR_TICKS, 2), yAxis(1, PROVIDER_TICKS, 4), yAxis(2, MARKET_TICKS, 2)],
    series,
    graphic,
  };
}

export default function App() {
  const ref = useRef<HTMLDivElement>(null);
  useEffect(() => {
    if (!ref.current) return;
    const chart = echarts.init(ref.current, null, { renderer: "svg", width: CANVAS_W, height: CANVAS_H });
    chart.setOption(buildOption() as any);
    return () => chart.dispose();
  }, []);
  return (
    <div
      ref={ref}
      style={{ position: "absolute", left: 0, top: 0, width: CANVAS_W, height: CANVAS_H, background: "#fff" }}
    />
  );
}
